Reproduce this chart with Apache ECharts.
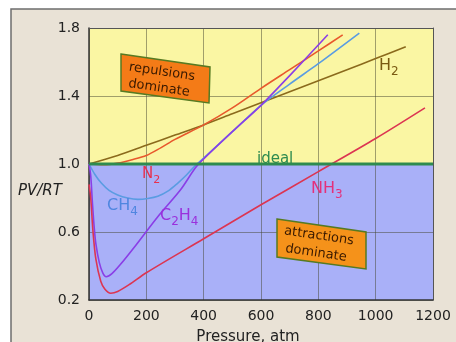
<!DOCTYPE html>
<html><head><meta charset="utf-8">
<script src="https://cdn.jsdelivr.net/npm/echarts/dist/echarts.min.js"></script>
<style>html,body{margin:0;padding:0;background:#fff}#c{width:456px;height:342px}</style>
</head><body><div id="c"></div>
<script>
// ---- data ----
const xTicks = [0, 200, 400, 600, 800, 1000, 1200];
const yTicks = [0.2, 0.6, 1.0, 1.4, 1.8];
const idealLine = [[0, 1.0], [1200, 1.0]];
const h2 = [[0,1.0],[100,1.05],[200,1.11],[300,1.17],[400,1.23],[500,1.295],[600,1.36],[700,1.425],[800,1.49],[900,1.555],[1000,1.62],[1105,1.69]];
const n2 = [[0,1.0],[50,0.996],[100,1.005],[150,1.025],[200,1.05],[250,1.095],[300,1.145],[400,1.23],[500,1.33],[600,1.445],[700,1.555],[800,1.665],[885,1.76]];
const ch4 = [[0,1.0],[20,0.94],[43,0.888],[70,0.845],[100,0.818],[135,0.8],[170,0.792],[205,0.797],[240,0.81],[275,0.84],[310,0.888],[340,0.935],[370,0.99],[400,1.035],[500,1.19],[600,1.345],[700,1.47],[800,1.59],[943,1.77]];
const c2h4 = [[0,1.0],[6,0.93],[12,0.77],[18,0.63],[24,0.53],[36,0.42],[48,0.36],[60,0.337],[80,0.355],[110,0.41],[160,0.515],[240,0.69],[320,0.85],[370,0.975],[400,1.03],[500,1.19],[600,1.345],[700,1.52],[833,1.76]];
const nh3 = [[0,0.88],[6,0.8],[14,0.6],[24,0.44],[41,0.31],[55,0.265],[76,0.24],[100,0.25],[140,0.29],[200,0.36],[400,0.56],[600,0.76],[800,0.955],[1000,1.15],[1172,1.33]];

const FONT = 'DejaVu Sans';
const chart = echarts.init(document.getElementById('c'), null, {renderer: 'canvas'});

const mctx = document.createElement('canvas').getContext('2d');
function segLabel(x, yMid, segs, color, size) {
  const out = [];
  let cx = x;
  segs.forEach(([t, sub]) => {
    const fs = sub ? Math.round(size * 0.72) : size;
    mctx.font = fs + 'px "' + FONT + '"';
    const w = mctx.measureText(t).width;
    out.push({type: 'text', x: cx, y: sub ? yMid + size * 0.38 : yMid, z: 100,
      style: {text: t, fill: color, fontSize: fs, fontFamily: FONT,
        align: 'left', verticalAlign: 'middle', textAlign: 'left', textVerticalAlign: 'middle'}});
    cx += w;
  });
  return out;
}
function boxText(x, y, t, rot) {
  return {type: 'text', x: x, y: y, rotation: rot, z: 100,
    style: {text: t, fill: '#3a1a00', fontSize: 13, fontFamily: FONT,
      align: 'center', verticalAlign: 'middle', textAlign: 'center', textVerticalAlign: 'middle'}};
}
const ROT = -0.145;

const lineSeries = (name, data, color) => ({
  name, type: 'line', data, symbol: 'none', smooth: 0.3,
  lineStyle: {color, width: 1.6}, z: 5, silent: true
});

const graphics = [
  {type: 'rect', z: -100, shape: {x: 11, y: 9, width: 520, height: 400},
   style: {fill: '#e9e2d6', stroke: '#6e6e6e', lineWidth: 1.5}},
  {type: 'polygon', z: 90, shape: {points: [[121,54],[210,67],[209,103],[121,91]]},
   style: {fill: '#f47b17', stroke: '#567a22', lineWidth: 1.5}},
  boxText(162, 72, 'repulsions', ROT),
  boxText(159, 88, 'dominate', ROT),
  {type: 'polygon', z: 90, shape: {points: [[277,219],[366,232],[366,269],[277,257]]},
   style: {fill: '#f5921a', stroke: '#567a22', lineWidth: 1.5}},
  boxText(319, 236, 'attractions', ROT),
  boxText(316, 253, 'dominate', ROT),
  {type: 'text', x: 18, y: 191, z: 100,
   style: {text: 'PV/RT', fill: '#222', fontSize: 15, fontStyle: 'italic', fontFamily: FONT,
     align: 'left', verticalAlign: 'middle', textAlign: 'left', textVerticalAlign: 'middle'}},
  {type: 'text', x: 248, y: 337, z: 100,
   style: {text: 'Pressure, atm', fill: '#222', fontSize: 15, fontFamily: FONT,
     align: 'center', verticalAlign: 'middle', textAlign: 'center', textVerticalAlign: 'middle'}},
  {type: 'text', x: 257, y: 159, z: 100,
   style: {text: 'ideal', fill: '#2e8b4f', fontSize: 15, fontFamily: FONT,
     align: 'left', verticalAlign: 'middle', textAlign: 'left', textVerticalAlign: 'middle'}},
  ...segLabel(379, 66, [['H',0],['2',1]], '#7a5a12', 16),
  ...segLabel(142, 174, [['N',0],['2',1]], '#e8304e', 15),
  ...segLabel(107, 206, [['CH',0],['4',1]], '#4f86e0', 16),
  ...segLabel(160, 216, [['C',0],['2',1],['H',0],['4',1]], '#9a30dc', 16),
  ...segLabel(311, 189, [['NH',0],['3',1]], '#e4307a', 16)
];

const axisLabelStyle = {color: '#222', fontSize: 14, fontFamily: FONT};
const gridLine = {show: true, lineStyle: {color: 'rgba(70,70,50,0.5)', width: 1}};

chart.setOption({
  animation: false,
  backgroundColor: '#ffffff',
  grid: {left: 89, top: 28, width: 344, height: 272, containLabel: false},
  xAxis: [
    {type: 'value', min: xTicks[0], max: xTicks[xTicks.length - 1], interval: xTicks[1] - xTicks[0],
     position: 'bottom', z: 3,
     axisLine: {show: true, onZero: false, lineStyle: {color: '#333', width: 1.5}},
     axisTick: {show: false}, splitLine: gridLine,
     axisLabel: Object.assign({margin: 9, showMaxLabel: true, showMinLabel: true, formatter: v => String(v)}, axisLabelStyle)},
    {type: 'value', min: xTicks[0], max: xTicks[xTicks.length - 1], position: 'top', z: 3,
     axisLine: {show: true, onZero: false, lineStyle: {color: '#555', width: 1}},
     axisTick: {show: false}, axisLabel: {show: false}, splitLine: {show: false}}
  ],
  yAxis: [
    {type: 'value', min: yTicks[0], max: yTicks[yTicks.length - 1], interval: 0.4,
     position: 'left', z: 3,
     axisLine: {show: true, onZero: false, lineStyle: {color: '#333', width: 1.5}},
     axisTick: {show: false}, splitLine: gridLine,
     axisLabel: Object.assign({margin: 9, formatter: v => v.toFixed(1)}, axisLabelStyle)},
    {type: 'value', min: yTicks[0], max: yTicks[yTicks.length - 1], position: 'right', z: 3,
     axisLine: {show: true, onZero: false, lineStyle: {color: '#555', width: 1}},
     axisTick: {show: false}, axisLabel: {show: false}, splitLine: {show: false}}
  ],
  graphic: graphics,
  series: [
    {name: 'bg', type: 'line', data: idealLine, symbol: 'none', lineStyle: {width: 0, opacity: 0}, z: 1, silent: true,
     markArea: {silent: true, z: 1, data: [
       [{yAxis: 1.0, itemStyle: {color: '#faf6a3'}}, {yAxis: yTicks[yTicks.length - 1]}],
       [{yAxis: yTicks[0], itemStyle: {color: '#a9b0f8'}}, {yAxis: 1.0}]
     ]}},
    lineSeries('H2', h2, '#8b6a1c'),
    lineSeries('N2', n2, '#e8582c'),
    lineSeries('CH4', ch4, '#5a9ce2'),
    lineSeries('C2H4', c2h4, '#8a3ee6'),
    lineSeries('NH3', nh3, '#dc3552'),
    {name: 'ideal', type: 'line', data: idealLine, symbol: 'none', lineStyle: {color: '#2e8b4f', width: 3}, z: 6, silent: true}
  ]
});
</script>
</body></html>
